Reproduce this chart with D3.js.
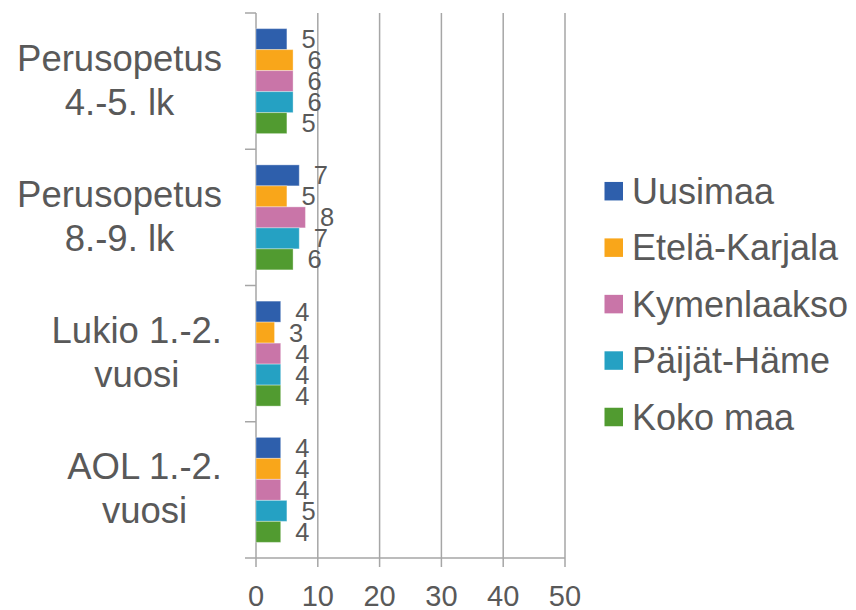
<!DOCTYPE html>
<html><head><meta charset="utf-8">
<script src="https://cdn.jsdelivr.net/npm/d3@7"></script>
<style>body{margin:0;background:#fff}svg{display:block}text{font-family:"Liberation Sans",Arial,sans-serif;fill:#595959}</style>
</head><body>
<svg id="c" width="856" height="610"></svg>
<script>
const categories = [["Perusopetus","4.-5. lk"],["Perusopetus","8.-9. lk"],["Lukio 1.-2.","vuosi"],["AOL 1.-2.","vuosi"]];
const seriesNames = ["Uusimaa","Etelä-Karjala","Kymenlaakso","Päijät-Häme","Koko maa"];
const colors = ["#2E5FAC","#F9A61A","#C975A8","#25A1C3","#519B30"];
const uusimaa = [5,7,4,4];
const etelaKarjala = [6,5,3,4];
const kymenlaakso = [6,8,4,4];
const paijatHame = [6,7,4,5];
const kokoMaa = [5,6,4,4];
const series = [uusimaa, etelaKarjala, kymenlaakso, paijatHame, kokoMaa];
const xTicks = [0,10,20,30,40,50];

const svg = d3.select("#c");
const x = d3.scaleLinear().domain([0,50]).range([256,565]);
const y0 = d3.scaleBand().domain(d3.range(categories.length)).range([13,558]).padding(0);
const y1 = d3.scaleBand().domain(d3.range(series.length)).range([0,y0.bandwidth()]).paddingInner(0).paddingOuter(0.744);
const grid = "#A6A6A6";

// gridlines
svg.append("g").selectAll("line").data(xTicks.slice(1)).join("line")
  .attr("x1",d=>x(d)).attr("x2",d=>x(d)).attr("y1",13).attr("y2",567)
  .attr("stroke",grid).attr("stroke-width",1.5);
// axes
svg.append("line").attr("x1",x(0)).attr("x2",x(50)).attr("y1",558).attr("y2",558).attr("stroke",grid).attr("stroke-width",1.5);
svg.append("line").attr("x1",x(0)).attr("x2",x(0)).attr("y1",13).attr("y2",567).attr("stroke",grid).attr("stroke-width",1.5);
// left category ticks
const catEdges = d3.range(categories.length+1).map(i=> i<categories.length ? y0(i) : y0(categories.length-1)+y0.bandwidth());
svg.append("g").selectAll("line").data(catEdges).join("line")
  .attr("x1",245).attr("x2",256).attr("y1",d=>d).attr("y2",d=>d).attr("stroke",grid).attr("stroke-width",1.5);
// x tick labels
svg.append("g").selectAll("text").data(xTicks).join("text")
  .attr("x",d=>x(d)).attr("y",605.5).attr("text-anchor","middle").attr("font-size",29).text(d=>d);

// bars
series.forEach((vals,si)=>{
  const g = svg.append("g");
  g.selectAll("rect").data(vals).join("rect")
    .attr("x",x(0)).attr("y",(d,i)=>y0(i)+y1(si))
    .attr("width",d=>x(d)-x(0)).attr("height",y1.bandwidth())
    .attr("fill",colors[si]).attr("stroke","#fff").attr("stroke-opacity",0.35).attr("stroke-width",1);
  g.selectAll("text").data(vals).join("text")
    .attr("x",d=>x(d)+14.5).attr("y",(d,i)=>y0(i)+y1(si)+y1.bandwidth()/2+9)
    .attr("font-size",25.5).text(d=>d);
});

// category labels
categories.forEach((lines,i)=>{
  const cy = y0(i)+y0.bandwidth()/2;
  const g = svg.append("g");
  const ts = lines.map((l,j)=> g.append("text").attr("y",cy-10.5+j*44).attr("font-size",36.5).attr("text-anchor","middle").text(l));
  const w = d3.max(ts,t=>t.node().getComputedTextLength());
  ts.forEach(t=>t.attr("x",222-w/2));
});

// legend
const lg = svg.append("g").selectAll("g").data(seriesNames).join("g")
  .attr("transform",(d,i)=>`translate(604.5,${191.2+i*56.45})`);
lg.append("rect").attr("x",0).attr("y",-9.25).attr("width",18.5).attr("height",18.5).attr("fill",(d,i)=>colors[i]);
lg.append("text").attr("x",27.5).attr("y",12.5).attr("font-size",36).text(d=>d);
</script>
</body></html>
